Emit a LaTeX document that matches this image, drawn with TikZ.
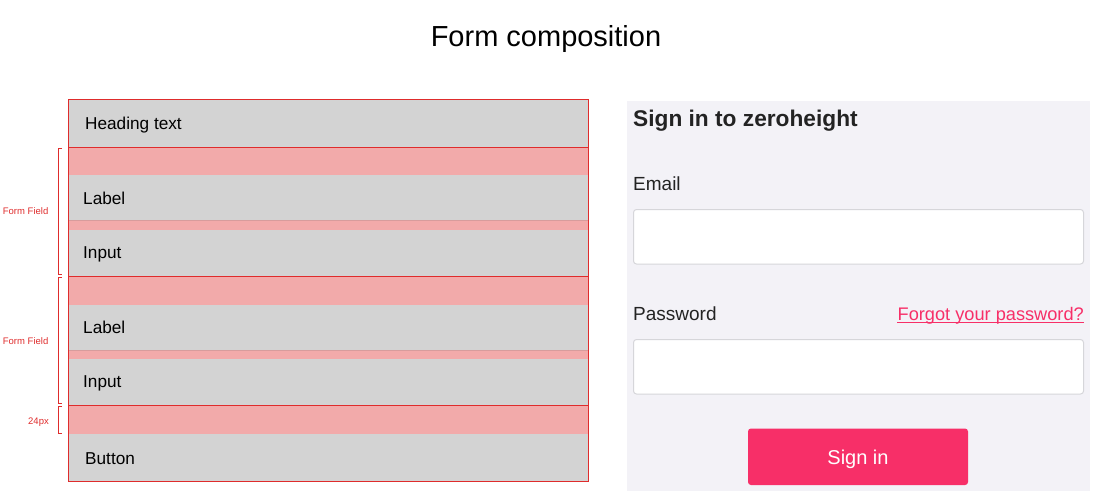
\documentclass[tikz,border=0pt]{standalone}
\usepackage{fontspec}
\setmainfont{Liberation Sans}

\definecolor{boxgray}{HTML}{D3D3D3}
\definecolor{bandpink}{HTML}{F2AAAA}
\definecolor{linered}{HTML}{DF2C2C}
\definecolor{labelline}{HTML}{D79C9C}
\definecolor{panelbg}{HTML}{F3F2F7}
\definecolor{fieldline}{HTML}{D6D6DA}
\definecolor{brandpink}{HTML}{F72F68}
\definecolor{textdark}{HTML}{232323}

\begin{document}
\begin{tikzpicture}[x=1pt,y=-1pt,
	rowtext/.style={anchor=base west,inner sep=0pt,text=black,font=\fontsize{17.2}{20}\selectfont},
	sidenote/.style={anchor=base east,inner sep=0pt,text=linered,font=\fontsize{9.5}{11}\selectfont},
	redline/.style={draw=linered,line width=1pt},
	bracket/.style={draw=linered,line width=0.8pt},
	formbox/.style={fill=white,draw=fieldline,line width=1pt,rounded corners=3pt},
	uitext/.style={anchor=base west,inner sep=0pt,text=textdark,font=\fontsize{19}{23}\selectfont}]

	\useasboundingbox (0,0) rectangle (1099,499);

	\node[inner sep=0pt,anchor=base] (title) at (546,46.5) {\fontsize{29}{32}\selectfont Form composition};

	% composition
	\coordinate (TL) at (68,99);
	\coordinate (BR) at (588,481);

	\fill[boxgray] (TL) rectangle (BR);

	\fill[bandpink] (68,147) rectangle (588,175);
	\fill[bandpink] (68,220) rectangle (588,230);
	\fill[bandpink] (68,276) rectangle (588,305);
	\fill[bandpink] (68,350) rectangle (588,359);
	\fill[bandpink] (68,405) rectangle (588,434);

	\draw[labelline] (68,220.5) -- (588,220.5);
	\draw[labelline] (68,350.5) -- (588,350.5);

	\draw[redline] (68,147) -- (588,147);
	\draw[redline] (68,276) -- (588,276);
	\draw[redline] (68,405) -- (588,405);
	\draw[redline] (TL) rectangle (BR);

	\node[rowtext] (heading) at (85,129) {Heading text};
	\node[rowtext] (label1) at (83,204.3) {Label};
	\node[rowtext] (input1) at (83,258.3) {Input};
	\node[rowtext] (label2) at (83,333.3) {Label};
	\node[rowtext] (input2) at (83,387.7) {Input};
	\node[rowtext] (button) at (85,464.3) {Button};

	% brackets
	\coordinate (F1a) at (62,148.5);
	\coordinate (F1b) at (62,274.5);
	\coordinate (F2a) at (62,277.5);
	\coordinate (F2b) at (62,403.5);
	\coordinate (G1a) at (62,406.5);
	\coordinate (G1b) at (62,433.5);

	\draw[bracket] (F1a) -- ++(-4,0) |- (F1b);
	\draw[bracket] (F2a) -- ++(-4,0) |- (F2b);
	\draw[bracket] (G1a) -- ++(-4,0) |- (G1b);

	\node[sidenote] (field1) at (48.5,214.5) {Form Field};
	\node[sidenote] (field2) at (48.5,344) {Form Field};
	\node[sidenote] (gap) at (49,424) {24px};

	% sign in form
	\fill[panelbg] (627,101) rectangle (1090,491);

	\node[uitext] (signtitle) at (633,126) {\fontsize{22.7}{26}\selectfont\bfseries Sign in to zeroheight};
	\node[uitext] (email) at (633,190) {Email};
	\draw[formbox] (633.5,209.5) rectangle (1083.5,264);

	\node[uitext] (password) at (633,320.5) {Password};
	\node[anchor=base east,inner sep=0pt,text=brandpink,font=\fontsize{18.2}{22}\selectfont] (forgot) at (1084,320) {Forgot your password?};
	\draw[brandpink,line width=1.3pt] ([yshift=-2.3pt]forgot.base west) -- ([yshift=-2.3pt]forgot.base east);
	\draw[formbox] (633.5,339.5) rectangle (1083.5,394);

	\fill[brandpink,rounded corners=3pt] (748,428.5) rectangle (968,485);
	\node[anchor=base,inner sep=0pt,text=white,font=\fontsize{20}{24}\selectfont] (signin) at (858,464.3) {Sign in};

\end{tikzpicture}
\end{document}
